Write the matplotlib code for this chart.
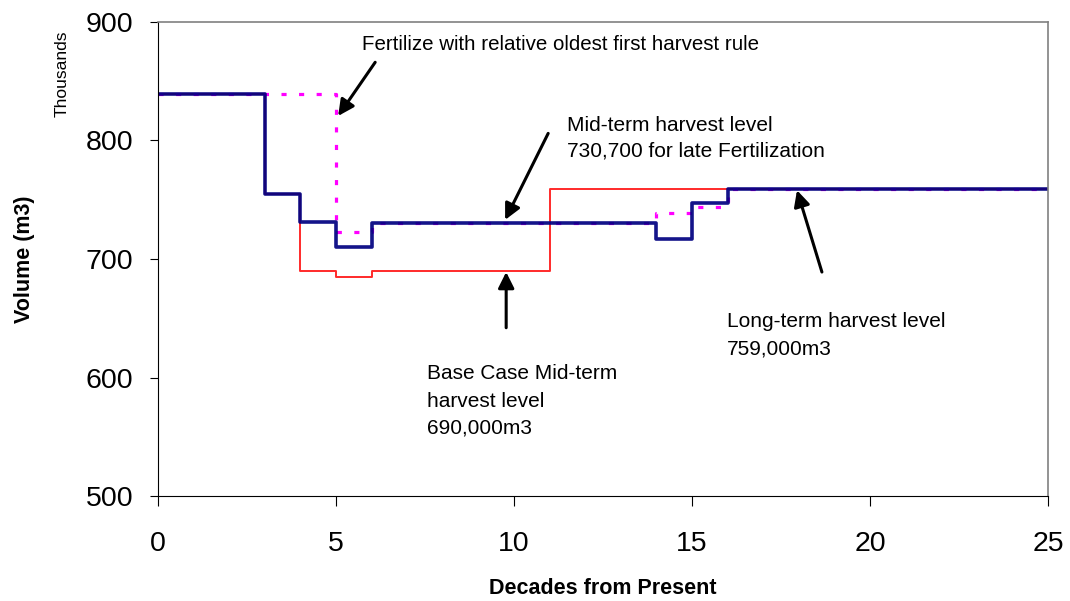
import numpy as np
import matplotlib.pyplot as plt

plt.rcParams['font.family'] = ['Liberation Sans', 'DejaVu Sans']

# decade boundaries and harvest levels (thousand m3) for each scenario
decades = [0, 3, 4, 5, 6, 11, 14, 15, 16, 25]
base_case = [839, 755, 690, 685, 690, 759, 759, 759, 759]
late_fert = [839, 755, 731, 710, 730.7, 730.7, 717, 747.5, 759]
oldest_first = [839, 839, 839, 722.5, 730.7, 730.7, 738.5, 744, 759]


def steps(levels):
    # repeat the last level so step(where='post') draws the final decade
    return np.append(levels, levels[-1])


fig = plt.figure(figsize=(10.7, 6.01), dpi=100)
ax = fig.add_axes([0.1477, 0.1747, 0.8317, 0.7887])

ax.step(decades, steps(base_case), where='post', color='#ff2a2a', lw=1.4)
ax.step(decades, steps(oldest_first), where='post', color='#ff00ff', lw=2.3,
        ls=(0, (1.6, 3.9)))
ax.step(decades, steps(late_fert), where='post', color='#000080', lw=2.6,
        alpha=0.92)

ax.set_xlim(0, 25)
ax.set_ylim(500, 900)
ax.set_xticks([0, 5, 10, 15, 20, 25])
ax.set_yticks([500, 600, 700, 800, 900])
ax.tick_params(labelsize=20.5, width=0.8, direction='out')
ax.tick_params(axis='x', length=7, pad=18)
ax.tick_params(axis='y', length=6, pad=12)
for side in ['top', 'right']:
    ax.spines[side].set_color('#808080')
    ax.spines[side].set_linewidth(1.2)

ax.set_xlabel('Decades from Present', fontsize=15.5, fontweight='bold',
              labelpad=15)
ax.set_ylabel('Volume (m3)', fontsize=15.5, fontweight='bold', labelpad=36)
fig.text(0.058, 0.878, 'Thousands', rotation=90, fontsize=12.5,
         ha='center', va='center')

arrow = dict(arrowstyle='-|>', lw=2.2, color='black', mutation_scale=24,
             shrinkA=0, shrinkB=0)
ax.annotate('', xy=(5.06, 820.7), xytext=(6.10, 866), arrowprops=arrow)
ax.annotate('', xy=(9.75, 733), xytext=(10.96, 806), arrowprops=arrow)
ax.annotate('', xy=(9.78, 689), xytext=(9.78, 642), arrowprops=arrow)
ax.annotate('', xy=(17.95, 758), xytext=(18.65, 689), arrowprops=arrow)

ax.text(5.73, 881.4, 'Fertilize with relative oldest first harvest rule',
        fontsize=14.8, va='center')
ax.text(11.49, 802, 'Mid-term harvest level\n730,700 for late Fertilization',
        fontsize=15, va='center', linespacing=1.48)
ax.text(7.56, 580, 'Base Case Mid-term\nharvest level\n690,000m3',
        fontsize=15, va='center', linespacing=1.55)
ax.text(15.98, 635.4, 'Long-term harvest level\n759,000m3',
        fontsize=15, va='center', linespacing=1.55)

fig.savefig('out.png', dpi=100)
